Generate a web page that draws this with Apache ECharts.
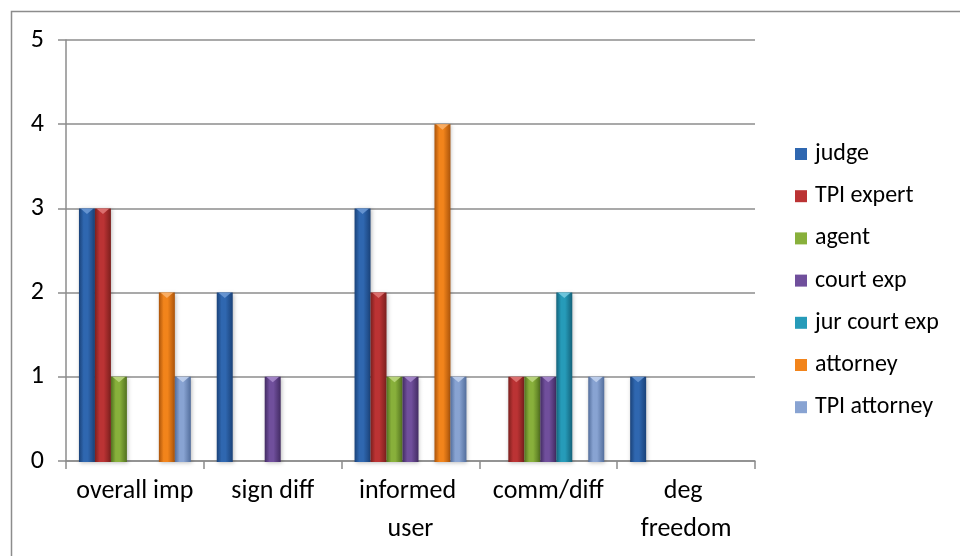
<!DOCTYPE html>
<html>
<head>
<meta charset="utf-8">
<script src="https://cdn.jsdelivr.net/npm/echarts@6/dist/echarts.min.js"></script>
<style>
  html, body { margin: 0; padding: 0; background: #fff; }
  #chart { width: 960px; height: 556px; }
</style>
</head>
<body>
<div id="chart"></div>
<script>
// Categories along the x axis
const categories = ['overall imp', 'sign diff', 'informed user', 'comm/diff', 'deg freedom'];

// Counts per respondent group, one value per category
const judge        = [3, 2, 3, 0, 1];
const tpiExpert    = [3, 0, 2, 1, 0];
const agent        = [1, 0, 1, 1, 0];
const courtExp     = [0, 1, 1, 1, 0];
const jurCourtExp  = [0, 0, 0, 2, 0];
const attorney     = [2, 0, 4, 0, 0];
const tpiAttorney  = [1, 0, 1, 1, 0];

const seriesNames = ['judge', 'TPI expert', 'agent', 'court exp', 'jur court exp', 'attorney', 'TPI attorney'];
const seriesValues = [judge, tpiExpert, agent, courtExp, jurCourtExp, attorney, tpiAttorney];

// Value axis ticks
const yTicks = [0, 1, 2, 3, 4, 5];

// Bevelled bar palette: edge shade, face colour, highlight for the top chevron
const palette = [
  { edge: '#1a4279', face: '#2f67b0', top: '#6f9bd6' },
  { edge: '#7c1f1d', face: '#bb3334', top: '#e07a79' },
  { edge: '#52711f', face: '#88b03b', top: '#bfd985' },
  { edge: '#432c63', face: '#704f9c', top: '#a98cce' },
  { edge: '#14627a', face: '#269bb9', top: '#7acce2' },
  { edge: '#ab540a', face: '#f2841b', top: '#fab470' },
  { edge: '#536e9c', face: '#88a3d2', top: '#c4d4ef' }
];

const FONT = 'Carlito, Lato, sans-serif';
const GAP_RATIO = 0.094;
const N = seriesNames.length;

function makeRender(idx) {
  const p = palette[idx];
  return function (params, api) {
    const cat = api.value(0);
    const v = api.value(1);
    if (!v) return null;
    const band = api.size([1, 0])[0];
    const base = api.coord([cat, 0]);
    const topPt = api.coord([cat, v]);
    const pad = band * GAP_RATIO;
    const w = (band - 2 * pad) / N;
    const x = base[0] - band / 2 + pad + idx * w;
    const y = topPt[1];
    const h = base[1] - y;
    const grad = new echarts.graphic.LinearGradient(0, 0, 1, 0, [
      { offset: 0, color: p.edge },
      { offset: 0.3, color: p.face },
      { offset: 0.55, color: p.face },
      { offset: 1, color: p.edge }
    ]);
    return {
      type: 'group',
      children: [
        {
          type: 'rect',
          shape: { x: x, y: y, width: w, height: h + 1 },
          style: {
            fill: grad,
            shadowBlur: 4,
            shadowColor: 'rgba(0,0,0,0.25)',
            shadowOffsetX: 1,
            shadowOffsetY: 1
          }
        },
        {
          type: 'polygon',
          shape: { points: [[x + 1.5, y], [x + w - 1.5, y], [x + w / 2, y + 5.5]] },
          style: { fill: p.top, opacity: 0.85 }
        }
      ]
    };
  };
}

const series = seriesNames.map(function (name, i) {
  return {
    name: name,
    type: 'custom',
    renderItem: makeRender(i),
    itemStyle: { color: palette[i].face },
    encode: { x: 0, y: 1 },
    data: seriesValues[i].map(function (val, c) { return [c, val]; }),
    z: 3
  };
});

const chart = echarts.init(document.getElementById('chart'), null, { renderer: 'canvas' });

chart.setOption({
  animation: false,
  backgroundColor: '#ffffff',
  graphic: [
    {
      type: 'rect',
      shape: { x: 11.5, y: 11.5, width: 970, height: 570 },
      style: { fill: 'none', stroke: '#8c8c8c', lineWidth: 1.5 },
      silent: true
    }
  ],
  grid: { left: 66, top: 40, width: 689, height: 421, containLabel: false },
  legend: {
    orient: 'vertical',
    left: 790,
    top: 137,
    itemWidth: 12,
    itemHeight: 12,
    itemGap: 18.2,
    icon: 'rect',
    textStyle: { fontFamily: FONT, fontSize: 24, color: '#000', lineHeight: 24, padding: [0, 0, 0, 3] },
    data: seriesNames
  },
  xAxis: {
    type: 'category',
    data: categories,
    axisLine: { show: true, lineStyle: { color: '#8c8c8c', width: 1.5 } },
    axisTick: { show: true, length: 8, alignWithLabel: false, lineStyle: { color: '#8c8c8c', width: 1.5 } },
    axisLabel: {
      fontFamily: FONT,
      fontSize: 26,
      color: '#000',
      margin: 11,
      lineHeight: 38,
      width: 128,
      overflow: 'break',
      interval: 0
    },
    splitLine: { show: false }
  },
  yAxis: {
    type: 'value',
    min: yTicks[0],
    max: yTicks[yTicks.length - 1],
    interval: 1,
    axisLine: { show: true, lineStyle: { color: '#8c8c8c', width: 1.5 } },
    axisTick: { show: true, length: 8, lineStyle: { color: '#8c8c8c', width: 1.5 } },
    axisLabel: { fontFamily: FONT, fontSize: 26, color: '#000', margin: 22 },
    splitLine: { show: true, lineStyle: { color: '#8c8c8c', width: 1.5 } }
  },
  series: series
});
</script>
</body>
</html>
